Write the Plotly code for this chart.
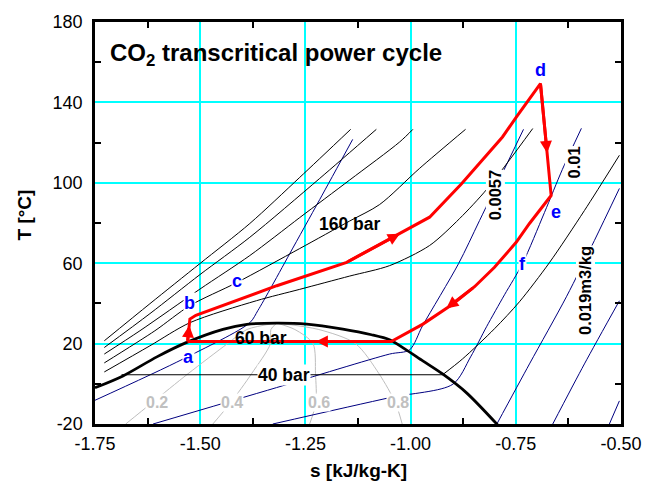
import plotly.graph_objects as go

# ---------------- axes ----------------
s_range = [-1.75, -0.50]
T_range = [-20, 180]
x_tickvals = [-1.75, -1.50, -1.25, -1.00, -0.75, -0.50]
x_ticktext = ["-1.75", "-1.50", "-1.25", "-1.00", "-0.75", "-0.50"]
y_tickvals = [-20, 20, 60, 100, 140, 180]
y_ticktext = ["-20", "20", "60", "100", "140", "180"]

# ---------------- saturation dome ----------------
dome_s = [-1.750, -1.6835, -1.603, -1.532, -1.446, -1.389, -1.318, -1.247,
          -1.161, -1.093, -1.050, -1.014, -0.971, -0.924, -0.867, -0.793]
dome_T = [-2.0, 3.9, 13.4, 20.6, 27.1, 29.6, 30.2, 29.7,
          27.2, 24.4, 21.9, 17.4, 11.4, 4.9, -4.5, -20.5]

# ---------------- isobars (black) ----------------
p40_dome_s = [-1.687, -0.924]
p40_dome_T = [4.5, 4.5]
p40_vap_s = [-0.924, -0.8765, -0.8006, -0.7412, -0.670, -0.5869, -0.5038]
p40_vap_T = [4.5, 12.4, 27.4, 40.85, 60.3, 86.2, 113.7]

p60_dome_s = [-1.530, -1.046]
p60_dome_T = [21.0, 21.0]

iso_hp1_s = [-1.7279, -1.6195, -1.5008, -1.3821, -1.2634, -1.1424]
iso_hp1_T = [21.4, 39.85, 59.8, 79.75, 102.7, 126.6]
iso_hp2_s = [-1.7279, -1.6195, -1.5008, -1.3821, -1.2159, -1.0814]
iso_hp2_T = [18.05, 34.9, 54.3, 72.9, 102.2, 126.6]
iso_hp3_s = [-1.7279, -1.6432, -1.5008, -1.3821, -1.2634, -1.1447, -1.0261, -0.9945]
iso_hp3_T = [14.8, 26.4, 47.1, 63.8, 82.7, 101.4, 120.3, 126.6]
iso_160_s = [-1.7279, -1.6076, -1.5245, -1.4137, -1.2634, -1.1447, -1.0735, -0.9786, -0.8694]
iso_160_T = [10.4, 26.4, 38.9, 50.3, 67.3, 81.0, 89.2, 107.2, 126.6]
iso_hp5_s = [-1.7279, -1.6195, -1.5245, -1.3662, -1.2634, -1.1447, -1.0498, -0.9549, -0.8836, -0.8172, -0.7097]
iso_hp5_T = [5.9, 18.9, 30.4, 41.35, 47.0, 53.6, 58.8, 68.8, 82.2, 97.2, 127.0]

# ---------------- isochores (navy) ----------------
v1_s = [-1.75, -1.5411, -1.3821, -1.3631, -1.3346, -1.2871, -1.2159, -1.1376]
v1_T = [-8.2, 12.3, 30.4, 36.4, 46.8, 64.8, 91.7, 121.6]
v0057_s = [-1.612, -1.3187, -1.0498, -1.0023, -0.9715, -0.886, -0.8362, -0.7317]
v0057_T = [-20.0, -1.9, 14.8, 16.9, 28.9, 59.8, 81.2, 126.6]
v001_s = [-1.3275, -1.0498, -0.8995, -0.8574, -0.8195, -0.7768, -0.7341, -0.6819, -0.6392, -0.5941]
v001_T = [-20.0, -6.9, -0.2, 13.4, 28.4, 44.3, 59.8, 85.2, 106.7, 127.1]
v0019_s = [-0.795, -0.7175, -0.6297, -0.5632, -0.5038]
v0019_T = [-20.0, 9.9, 43.3, 71.3, 97.2]
v5_s = [-0.6622, -0.5869, -0.5038]
v5_T = [-20.0, 9.9, 41.3]
v6_s = [-0.5276, -0.5038]
v6_T = [-20.0, -8.5]

# ---------------- quality lines (gray) ----------------
q_T = [30.2, 27.0, 20.0, 5.0, -9.5, -20.0]
q02_s = [-1.318, -1.389, -1.435, -1.529, -1.615, -1.677]
q04_s = [-1.318, -1.332, -1.333, -1.378, -1.428, -1.470]
q06_s = [-1.318, -1.275, -1.232, -1.226, -1.225, -1.240]
q08_s = [-1.318, -1.218, -1.131, -1.075, -1.036, -1.020]
q_labels = ["0.2", "0.4", "0.6", "0.8"]
q_label_s = [-1.603, -1.425, -1.218, -1.031]
q_label_T = [-9.5, -9.5, -9.5, -9.5]

# ---------------- cycle (red) ----------------
cycle_s = [-1.530, -1.5245, -1.5103, -1.4177, -1.318, -1.1519, -1.0189, -0.9549,
           -0.8789, -0.7816, -0.7484, -0.6914, -0.6660, -0.7175, -0.7491, -0.8006,
           -0.8481, -0.8995, -0.9707, -1.0142, -1.046, -1.530]
cycle_T = [21.0, 32.2, 34.1, 41.3, 48.8, 60.45, 75.4, 82.9,
           99.55, 122.8, 132.8, 149.4, 93.7, 79.75, 70.4, 57.95,
           48.3, 39.7, 29.7, 24.9, 21.0, 21.0]
# arrow heads: segment index, fraction along segment, index of the tail point
arrow_seg = [0, 5, 11, 17, 20]
arrow_frac = [0.72, 0.95, 0.62, 0.22, 0.37]
arrow_tail = [0, 5, 11, 16, 20]

state_names = ["a", "b", "c", "d", "e", "f"]
state_s = [-1.528, -1.5245, -1.4136, -0.691, -0.654, -0.733]
state_T = [13.1, 40.3, 51.3, 156.0, 85.4, 59.7]

# ---------------- text labels ----------------
bar_labels = ["160 bar", "60 bar", "40 bar"]
bar_label_s = [-1.1447, -1.3565, -1.3009]
bar_label_T = [79.6, 22.7, 4.5]
bar_label_bg = ["rgba(0,0,0,0)", "rgba(0,0,0,0)", "white"]

vol_labels = ["0.0057", "0.01", "0.019m3/kg"]
vol_label_s = [-0.7974, -0.6107, -0.5850]
vol_label_T = [93.7, 110.3, 46.3]

FONT = "Liberation Sans, Arial, sans-serif"
NAVY = "#000080"
GRAY = "#BEBEBE"

fig = go.Figure()

def add_line(xs, ys, color, width, shape="spline"):
    fig.add_trace(go.Scatter(x=xs, y=ys, mode="lines",
                             line=dict(color=color, width=width, shape=shape,
                                       smoothing=0.8 if shape == "spline" else None),
                             hoverinfo="skip", showlegend=False))

for qs in [q02_s, q04_s, q06_s, q08_s]:
    add_line(qs, q_T, GRAY, 1)

for xs, ys in [(v1_s, v1_T), (v0057_s, v0057_T), (v001_s, v001_T),
               (v0019_s, v0019_T), (v5_s, v5_T), (v6_s, v6_T)]:
    add_line(xs, ys, NAVY, 1)

add_line(p40_dome_s, p40_dome_T, "black", 1, "linear")
add_line(p40_vap_s, p40_vap_T, "black", 1)
add_line(p60_dome_s, p60_dome_T, "black", 1, "linear")
for xs, ys in [(iso_hp1_s, iso_hp1_T), (iso_hp2_s, iso_hp2_T), (iso_hp3_s, iso_hp3_T),
               (iso_160_s, iso_160_T), (iso_hp5_s, iso_hp5_T)]:
    add_line(xs, ys, "black", 1)

add_line(dome_s, dome_T, "black", 2.8)

add_line(cycle_s, cycle_T, "#FF0000", 3, "linear")

ann = []
# arrows on the cycle
for i, f, k in zip(arrow_seg, arrow_frac, arrow_tail):
    s0, T0 = cycle_s[i], cycle_T[i]
    s1, T1 = cycle_s[i + 1], cycle_T[i + 1]
    hs, hT = s0 + f * (s1 - s0), T0 + f * (T1 - T0)
    ann.append(dict(x=hs, y=hT, ax=cycle_s[k], ay=cycle_T[k],
                    xref="x", yref="y", axref="x", ayref="y",
                    text="", showarrow=True, arrowhead=2, arrowsize=0.8,
                    arrowwidth=3, arrowcolor="#FF0000"))

for n, xs, ys in zip(state_names, state_s, state_T):
    ann.append(dict(x=xs, y=ys, xref="x", yref="y", text="<b>%s</b>" % n, showarrow=False,
                    font=dict(family=FONT, size=18, color="#0000FF"),
                    bgcolor="white", borderpad=0))

for t, xs, ys, bg in zip(bar_labels, bar_label_s, bar_label_T, bar_label_bg):
    ann.append(dict(x=xs, y=ys, xref="x", yref="y", text="<b>%s</b>" % t, showarrow=False,
                    font=dict(family=FONT, size=17.5, color="black"),
                    bgcolor=bg, borderpad=0))

for t, xs, ys in zip(vol_labels, vol_label_s, vol_label_T):
    ann.append(dict(x=xs, y=ys, xref="x", yref="y", text="<b>%s</b>" % t, showarrow=False,
                    textangle=-90, font=dict(family=FONT, size=16.5, color="black"),
                    bgcolor="white", borderpad=0))

for t, xs, ys in zip(q_labels, q_label_s, q_label_T):
    ann.append(dict(x=xs, y=ys, xref="x", yref="y", text="<b>%s</b>" % t, showarrow=False,
                    font=dict(family=FONT, size=16, color="#C0C0C0"),
                    bgcolor="white", borderpad=0))

# title and axis titles
ann.append(dict(x=0.025, y=0.92, xref="paper", yref="paper", xanchor="left", yanchor="middle",
                text="<b>CO<sub>2</sub> transcritical power cycle</b>", showarrow=False,
                font=dict(family=FONT, size=24, color="black")))
ann.append(dict(x=0.5, y=-0.115, xref="paper", yref="paper", xanchor="center", yanchor="middle",
                text="<b>s [kJ/kg-K]</b>", showarrow=False,
                font=dict(family=FONT, size=19, color="black")))
ann.append(dict(x=-0.134, y=0.52, xref="paper", yref="paper", xanchor="center", yanchor="middle",
                text="<b>T [°C]</b>", showarrow=False, textangle=-90,
                font=dict(family=FONT, size=19, color="black")))

axis_common = dict(showgrid=True, gridcolor="#00FFFF", gridwidth=1.5, zeroline=False,
                   showline=True, linecolor="black", linewidth=2.5, mirror="allticks",
                   ticks="", tickfont=dict(family=FONT, size=18, color="black"))

fig.update_layout(
    width=661, height=491,
    margin=dict(l=95, r=40, t=22, b=67),
    paper_bgcolor="white", plot_bgcolor="white",
    showlegend=False,
    annotations=ann,
    xaxis=dict(range=s_range, tickvals=x_tickvals, ticktext=x_ticktext,
               ticklabelstandoff=2,
               minor=dict(tickvals=[-1.625, -1.375, -1.125, -0.875, -0.625], ticks="inside",
                          ticklen=6, tickwidth=1.5, tickcolor="black", showgrid=False),
               **axis_common),
    yaxis=dict(range=T_range, tickvals=y_tickvals, ticktext=y_ticktext,
               ticklabelstandoff=6,
               minor=dict(tickvals=[0, 40, 80, 120, 160], ticks="inside",
                          ticklen=6, tickwidth=1.5, tickcolor="black", showgrid=False),
               **axis_common),
)

fig.write_html("out.html")
